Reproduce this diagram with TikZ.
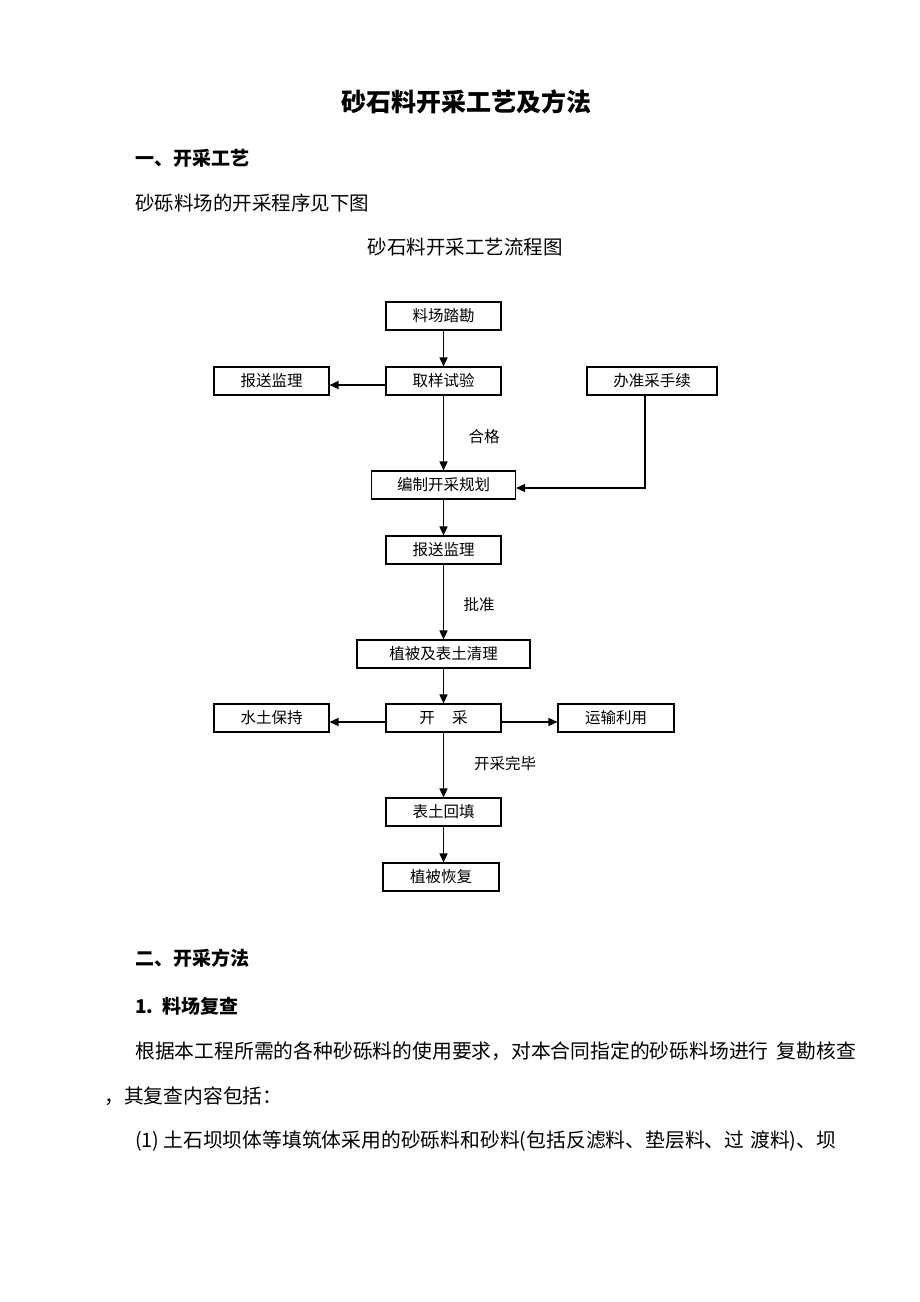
\documentclass[tikz,border=0pt]{standalone}
\usepackage{fontspec}
\newfontfamily\cjk{Noto Sans CJK SC}
\usetikzlibrary{arrows.meta}
\tikzset{
  box/.style={draw, line width=1.1pt, minimum height=28pt, inner sep=0pt, font=\cjk\fontsize{15.5}{15.5}\selectfont},
  arr/.style={line width=1.4pt, -{Triangle[length=9pt,width=8pt]}},
  lbl/.style={inner sep=0pt, font=\cjk\fontsize{15.5}{15.5}\selectfont},
  body/.style={inner sep=0pt, anchor=west, font=\cjk\fontsize{19.8}{19.8}\selectfont},
  head/.style={inner sep=0pt, anchor=west, font=\cjk\bfseries\fontsize{19}{19}\selectfont}
}
\begin{document}
\begin{tikzpicture}[x=1pt,y=-1pt]
\useasboundingbox[fill=white] (0,0) rectangle (920,1302);
% texts
\node[inner sep=0pt, font=\cjk\bfseries\fontsize{25}{25}\selectfont] (title) at (466,102) {砂石料开采工艺及方法};
\node[head] (h1) at (135,158) {一、开采工艺};
\node[inner sep=0pt, anchor=west, font=\cjk\fontsize{19.5}{19.5}\selectfont] (p1) at (135,203) {砂砾料场的开采程序见下图};
\node[inner sep=0pt, font=\cjk\fontsize{19.5}{19.5}\selectfont] (cap) at (465,247) {砂石料开采工艺流程图};
% flowchart
\node[box, minimum width=115pt] (n1) at (443.5,316) {料场踏勘};
\node[box, minimum width=115pt] (n2) at (443.5,381) {取样试验};
\node[box, minimum width=115pt] (n3) at (271.5,381) {报送监理};
\node[box, minimum width=130pt] (n4) at (652,381) {办准采手续};
\node[box, minimum width=144pt] (n5) at (443.5,485) {编制开采规划};
\node[box, minimum width=115pt] (n6) at (443.5,550) {报送监理};
\node[box, minimum width=173pt] (n7) at (443.5,654) {植被及表土清理};
\node[box, minimum width=115pt] (n8) at (443.5,718) {开\hspace{1.1em}采};
\node[box, minimum width=115pt] (n9) at (271.5,718) {水土保持};
\node[box, minimum width=116pt] (n10) at (616,718) {运输利用};
\node[box, minimum width=115pt] (n11) at (443.5,812) {表土回填};
\node[box, minimum width=116pt] (n12) at (441,877) {植被恢复};
\node[lbl] (l1) at (484,437) {合格};
\node[lbl] (l2) at (479,605) {批准};
\node[lbl] (l3) at (505,764) {开采完毕};
\coordinate (c4) at (645,395);
\draw[arr] (n1) -- (n2);
\draw[arr] (n2) -- (n5);
\draw[arr] ([yshift=-4pt]n2.west) -- ([yshift=-4pt]n3.east);
\draw[arr] (c4) |- ([yshift=-3pt]n5.east);
\draw[arr] (n5) -- (n6);
\draw[arr] (n6) -- (n7);
\draw[arr] (n7) -- (n8);
\draw[arr] ([yshift=-4pt]n8.west) -- ([yshift=-4pt]n9.east);
\draw[arr] ([yshift=-4pt]n8.east) -- ([yshift=-4pt]n10.west);
\draw[arr] (n8) -- (n11);
\draw[arr] (n11.south) -- (n11.south |- n12.north);
% section two
\node[head] (h2) at (135,958) {二、开采方法};
\node[head] (h3) at (135,1006) {1.\hspace{0.5em}料场复查};
\node[body] (p2) at (135,1051) {根据本工程所需的各种砂砾料的使用要求，对本合同指定的砂砾料场进行\hspace{0.4em}复勘核查};
\node[body] (p3) at (104,1096) {，其复查内容包括：};
\node[body] (p4) at (135,1141) {(1)\hspace{0.2em}土石坝坝体等填筑体采用的砂砾料和砂料(包括反滤料、垫层料、过\hspace{0.3em}渡料)、坝};
\end{tikzpicture}
\end{document}
